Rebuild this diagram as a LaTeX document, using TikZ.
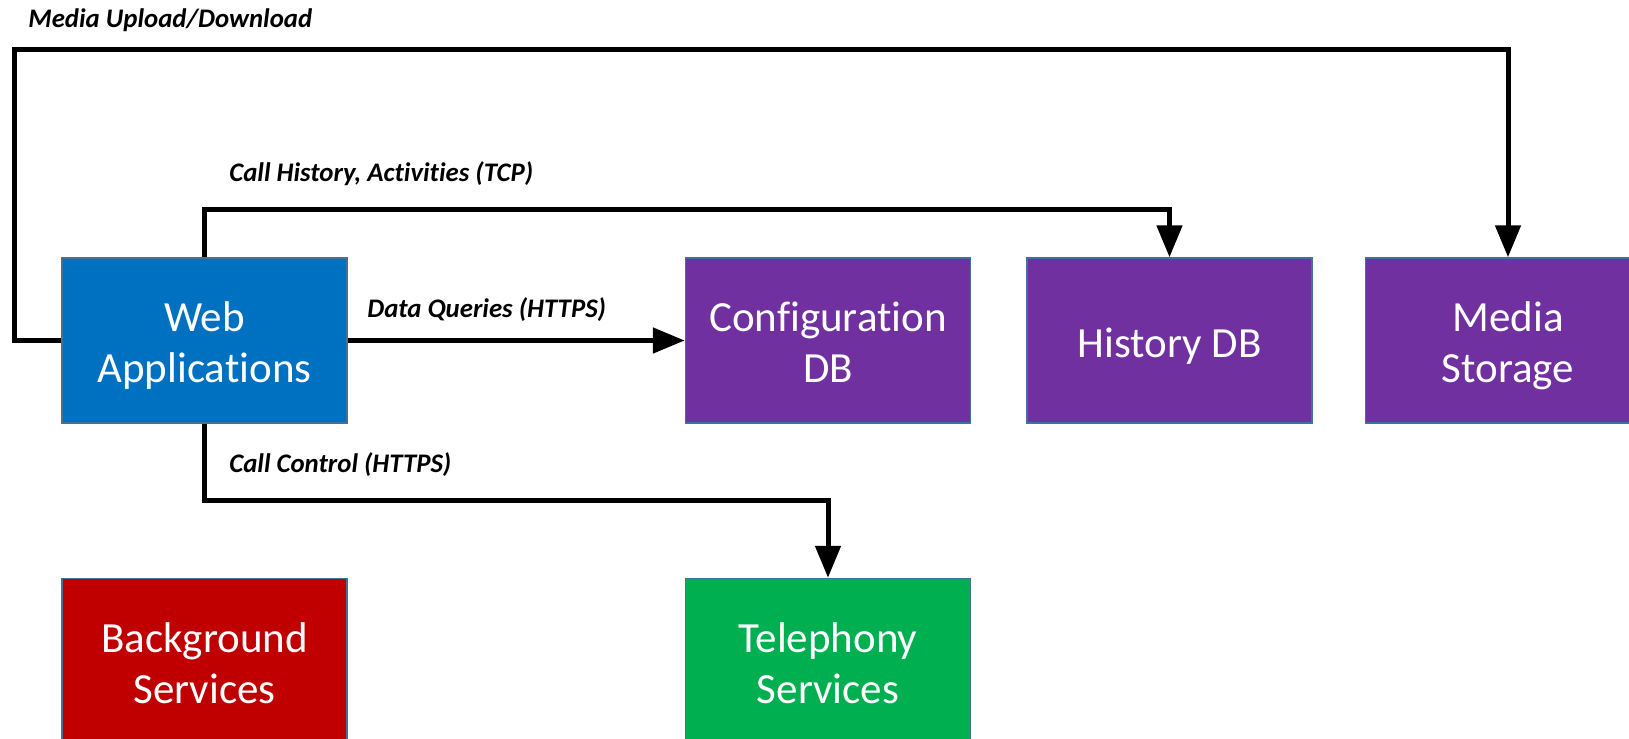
\documentclass[tikz,border=0pt]{standalone}
\usepackage{fontspec}
\setmainfont{Carlito}[Ligatures=NoCommon]
\usepackage{tikz}
\usetikzlibrary{arrows.meta, positioning}
\definecolor{webblue}{RGB}{0,112,192}
\definecolor{dbpurple}{RGB}{112,48,160}
\definecolor{bgred}{RGB}{192,0,0}
\definecolor{telgreen}{RGB}{0,176,80}
\definecolor{edgegray}{RGB}{65,113,156}
\newcommand{\svctop}{\rule{0pt}{21.5pt}}
\newcommand{\svcbot}{\rule[-5pt]{0pt}{5pt}}
\tikzset{
  svcbox/.style={rectangle, draw=edgegray, line width=0.75pt,
    minimum width=142.5pt, minimum height=82.5pt, align=center,
    text=white, font=\fontsize{21.5}{25.5}\selectfont},
  link/.style={-{Triangle[length=16pt,width=12.5pt]}, line width=2.5pt, color=black},
  linklabel/.style={anchor=west, inner sep=0pt, font=\fontsize{13.4}{15}\selectfont\bfseries\itshape}
}

\begin{document}
\begin{tikzpicture}[x=0.5pt, y=-0.5pt]
  \useasboundingbox (0,0) rectangle (1629,739);

  % Services
  \node[svcbox, fill=webblue] (web) at (204.5,340.5) {\svctop Web\\Applications\svcbot};
  \node[svcbox, fill=dbpurple, right=168.5pt of web] (config) {\svctop Configuration\\DB\svcbot};
  \node[svcbox, fill=dbpurple, right=27.5pt of config] (history) {\svctop History DB\svcbot};
  \node[svcbox, fill=dbpurple, right=26pt of history] (media) {\svctop Media\\Storage\svcbot};
  \node[svcbox, fill=bgred, below=77pt of web] (background) {\svctop Background\\Services\svcbot};
  \node[svcbox, fill=telgreen, below=77pt of config] (telephony) {\svctop Telephony\\Services\svcbot};

  % Connections
  \coordinate (topleft) at (14.5,49);
  \draw[link] (web.west) -| (topleft) -| (media.north);
  \draw[link] (web.north) -- ++(0,-48) -| (history.north);
  \draw[link] (web.east) -- (config.west);
  \draw[link] (web.south) -- ++(0,77) -| (telephony.north);

  % Labels
  \node[linklabel] (medialbl) at (28,20) {Media Upload/Download};
  \node[linklabel] (historylbl) at (229,174) {Call History, Activities (TCP)};
  \node[linklabel] (datalbl) at (367,310) {Data Queries (HTTPS)};
  \node[linklabel] (controllbl) at (229,465) {Call Control (HTTPS)};
\end{tikzpicture}
\end{document}
